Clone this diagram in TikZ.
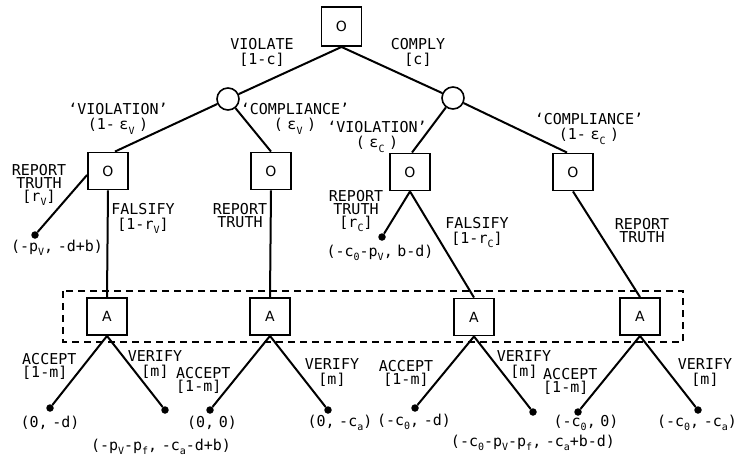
\documentclass[tikz,border=0pt]{standalone}
\usepackage{fontspec}
\newfontfamily\lblfont{DejaVu Sans Mono}[WordSpace=0.5]
\newfontfamily\boxfont{DejaVu Sans}
\newcommand\lsub[1]{\raisebox{-0.3em}{\fontsize{10pt}{10pt}\selectfont #1}}
\begin{document}
\begin{tikzpicture}[x=1pt,y=-1pt,
  dm/.style={draw, line width=1.9pt, minimum width=40pt, minimum height=37pt, inner sep=0pt, font=\boxfont\fontsize{14pt}{14pt}\selectfont},
  chance/.style={draw, circle, line width=1.6pt, minimum size=22pt, inner sep=0pt},
  leaf/.style={circle, fill, inner sep=0pt, minimum size=7.5pt},
  lbl/.style={font=\lblfont\fontsize{15pt}{15pt}\selectfont, inner sep=0pt, align=center},
  edge/.style={line width=2pt},
  infoset/.style={line width=1.9pt, dash pattern=on 7pt off 5pt}]
\fill[white] (0,0) rectangle (737,456);
\useasboundingbox (0,0) rectangle (737,456);

% decision and chance nodes
\node[dm, minimum height=39pt] (r) at (341.5,26.5) {O};
\node[chance] (c1) at (228,99) {};
\node[chance] (c2) at (453,98) {};
\node[dm] (b1) at (108,171) {O};
\node[dm] (b2) at (271,171) {O};
\node[dm] (b3) at (410,172) {O};
\node[dm] (b4) at (573,172) {O};
\node[dm] (a1) at (107,316.5) {A};
\node[dm] (a2) at (270,316.5) {A};
\node[dm] (a3) at (474,317) {A};
\node[dm] (a4) at (640,316.5) {A};

% information set
\draw[infoset] (63,291) rectangle (683,342);

% terminal dots
\node[leaf] (l1) at (35,235) {};
\node[leaf] (l2) at (382,237) {};
\node[leaf] (t1) at (50,408) {};
\node[leaf] (t2) at (165,410) {};
\node[leaf] (t3) at (210,410) {};
\node[leaf] (t4) at (328,410) {};
\node[leaf] (t5) at (415,408) {};
\node[leaf] (t6) at (533,412) {};
\node[leaf] (t7) at (578,412) {};
\node[leaf] (t8) at (698,410) {};

% edges
\draw[edge] (r.south) -- (c1);
\draw[edge] (r.south) -- (c2);
\draw[edge] (c1) -- ([xshift=7pt]b1.north);
\draw[edge] (c1) -- (b2.north);
\draw[edge] (c2) -- ([xshift=2pt]b3.north);
\draw[edge] (c2) -- ([xshift=-6pt]b4.north);
\draw[edge] ([yshift=-4pt]b1.west) -- (l1);
\draw[edge] (b1.south) -- (a1.north);
\draw[edge] (b2.south) -- (a2.north);
\draw[edge] (b3.south) -- (l2);
\draw[edge] (b3.south) -- (a3.north);
\draw[edge] (b4.south) -- (a4.north);
\draw[edge] (a1.south) -- (t1);
\draw[edge] (a1.south) -- (t2);
\draw[edge] (a2.south) -- (t3);
\draw[edge] (a2.south) -- (t4);
\draw[edge] (a3.south) -- (t5);
\draw[edge] (a3.south) -- (t6);
\draw[edge] (a4.south) -- (t7);
\draw[edge] (a4.south) -- (t8);

% upper labels
\node[lbl, anchor=north] (L1) at (262,38) {VIOLATE\\{[1-c]}};
\node[lbl, anchor=north] (L2) at (418,38) {COMPLY\\{[c]}};
\node[lbl, anchor=north] (L3) at (118,103) {‘VIOLATION’\\(1- ε\lsub{V} )};
\node[lbl, anchor=north] (L4) at (295,103) {‘COMPLIANCE’\\( ε\lsub{V} )};
\node[lbl, anchor=north] (L5) at (377,121) {‘VIOLATION’\\( ε\lsub{C} )};
\node[lbl, anchor=north] (L6) at (589,113) {‘COMPLIANCE’\\(1- ε\lsub{C} )};
\node[lbl, anchor=north] (L7) at (39,164) {REPORT\\[-2pt]TRUTH\\[-2pt]{[r\lsub{V}]}};
\node[lbl, anchor=north] (L8) at (143,203) {FALSIFY\\{[1-r\lsub{V}]}};
\node[lbl, anchor=north] (L9) at (240,203) {REPORT\\[-2pt]TRUTH};
\node[lbl, anchor=north] (L10) at (356,190) {REPORT\\[-2pt]TRUTH\\[-2pt]{[r\lsub{C}]}};
\node[lbl, anchor=north] (L11) at (477,217) {FALSIFY\\{[1-r\lsub{C}]}};
\node[lbl, anchor=north] (L12) at (642,218) {REPORT\\[-2pt]TRUTH};
\node[lbl] (P1) at (57,248) {(-p\lsub{V}, -d+b)};
\node[lbl] (P2) at (380,253) {(-c\lsub{0}-p\lsub{V}, b-d)};

% lower labels
\node[lbl, anchor=north west, align=left] (M1) at (22,353) {ACCEPT\\[-2pt]{[1-m]}};
\node[lbl, anchor=north] (M2) at (155,350) {VERIFY\\{[m]}};
\node[lbl, anchor=north west, align=left] (M3) at (176,367) {ACCEPT\\[-2pt]{[1-m]}};
\node[lbl, anchor=north] (M4) at (332,358) {VERIFY\\{[m]}};
\node[lbl, anchor=north] (M5) at (406,360) {ACCEPT\\[-2pt]{[1-m]}};
\node[lbl, anchor=north] (M6) at (524,350) {VERIFY\\{[m]}};
\node[lbl, anchor=north west, align=left] (M7) at (543,368) {ACCEPT\\[-2pt]{[1-m]}};
\node[lbl, anchor=north] (M8) at (705,358) {VERIFY\\{[m]}};

% payoffs
\node[lbl] (Q1) at (50,423) {(0, -d)};
\node[lbl] (Q2) at (161,447) {(-p\lsub{V}-p\lsub{f}, -c\lsub{a}-d+b)};
\node[lbl] (Q3) at (212,423) {(0, 0)};
\node[lbl] (Q4) at (340,423) {(0, -c\lsub{a})};
\node[lbl] (Q5) at (414,422) {(-c\lsub{0}, -d)};
\node[lbl] (Q6) at (533,443) {(-c\lsub{0}-p\lsub{V}-p\lsub{f}, -c\lsub{a}+b-d)};
\node[lbl] (Q7) at (586,423) {(-c\lsub{0}, 0)};
\node[lbl] (Q8) at (697,423) {(-c\lsub{0}, -c\lsub{a})};
\end{tikzpicture}
\end{document}
